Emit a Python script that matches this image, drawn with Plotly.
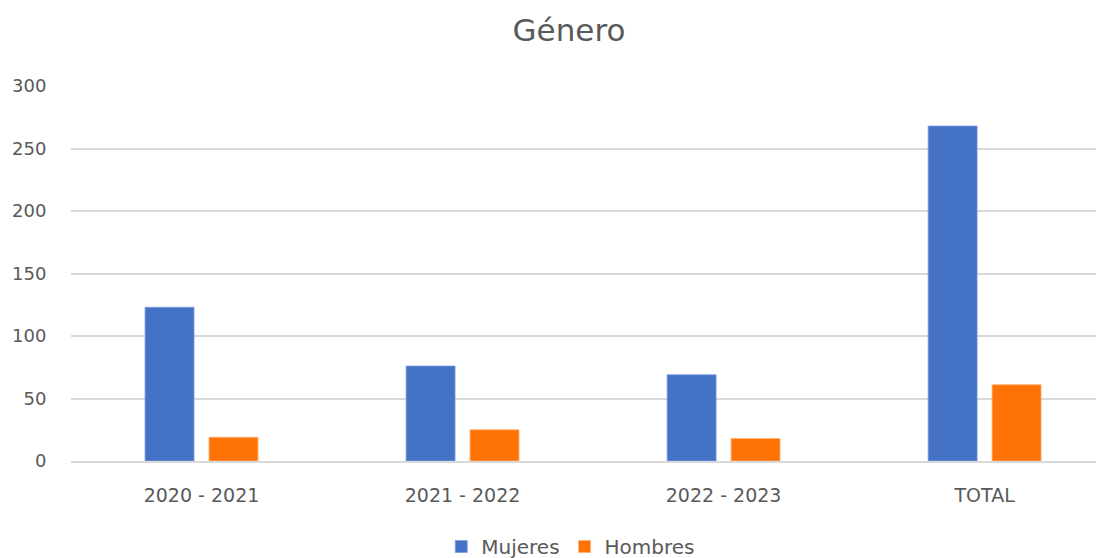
import plotly.graph_objects as go

categories = ["2020 - 2021", "2021 - 2022", "2022 - 2023", "TOTAL"]
mujeres = [123, 76, 69, 268]
hombres = [19, 25, 18, 61]
y_ticks = [0, 50, 100, 150, 200, 250, 300]

font_family = "DejaVu Sans, sans-serif"
gray = "#595959"

fig = go.Figure()
fig.add_trace(go.Bar(name="Mujeres", x=categories, y=mujeres,
                     marker=dict(color="#4472C4", line=dict(color="#7f9fe0", width=0.8))))
fig.add_trace(go.Bar(name="Hombres", x=categories, y=hombres,
                     marker=dict(color="#FF7306", line=dict(color="#ffb070", width=0.8))))

fig.update_layout(
    width=1104, height=558,
    paper_bgcolor="white", plot_bgcolor="white",
    margin=dict(l=63, r=0, t=78, b=105),
    barmode="group", bargap=0.510, bargroupgap=0.234,
    title=dict(text="Género", x=561/1104, xanchor="center", y=1-22/558, yanchor="middle",
               font=dict(family=font_family, size=31, color=gray)),
    font=dict(family=font_family, color=gray),
    legend=dict(orientation="h", x=530/1104, xanchor="center", y=-0.229, yanchor="middle",
                font=dict(size=20, color=gray), itemwidth=30, traceorder="normal"),
    showlegend=True,
)
fig.update_xaxes(type="category", range=[-0.5, 3.488], showgrid=False,
                 showline=True, linecolor="#d9d9d9", linewidth=1.5,
                 ticks="outside", ticklen=16, tickcolor="rgba(0,0,0,0)",
                 tickfont=dict(size=19, color=gray))
fig.update_yaxes(range=[0, 300], tickvals=y_ticks, showgrid=True, gridcolor="#d9d9d9",
                 gridwidth=1.5, zeroline=False, showline=False,
                 ticks="outside", ticklen=20, tickcolor="rgba(0,0,0,0)",
                 tickfont=dict(size=18, color=gray))

fig.write_html("out.html")
